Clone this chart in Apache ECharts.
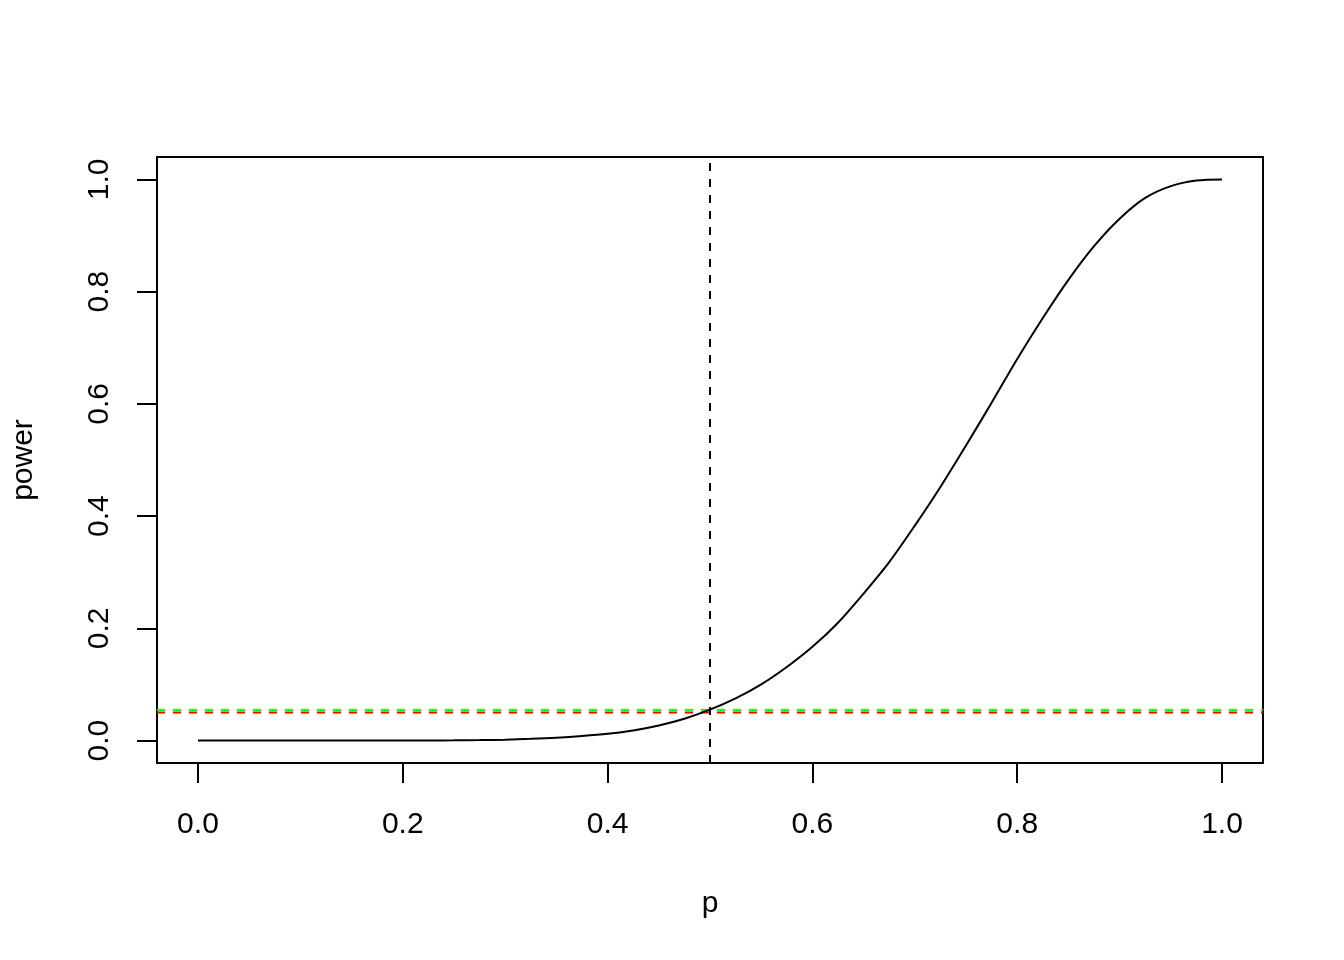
<!DOCTYPE html>
<html>
<head>
<meta charset="utf-8">
<script src="https://cdn.jsdelivr.net/npm/echarts@6/dist/echarts.min.js"></script>
<style>
html,body{margin:0;padding:0;background:#fff;}
#chart{width:1344px;height:960px;}
</style>
</head>
<body>
<div id="chart"></div>
<script>
// Data
const pValues = [0, 0.025, 0.05, 0.075, 0.1, 0.125, 0.15, 0.175, 0.2, 0.225, 0.25, 0.275, 0.3, 0.325, 0.35, 0.375, 0.4, 0.425, 0.45, 0.475, 0.5, 0.525, 0.55, 0.575, 0.6, 0.625, 0.65, 0.675, 0.7, 0.725, 0.75, 0.775, 0.8, 0.825, 0.85, 0.875, 0.9, 0.925, 0.95, 0.975, 1.0];
const powerValues = [0, 0, 0, 0, 0, 0, 0, 0, 0.0001, 0.0002, 0.0004, 0.0009, 0.0016, 0.003, 0.005, 0.008, 0.012, 0.018, 0.027, 0.039, 0.055, 0.075, 0.100, 0.131, 0.167, 0.210, 0.262, 0.318, 0.383, 0.452, 0.526, 0.602, 0.680, 0.753, 0.821, 0.881, 0.930, 0.967, 0.988, 0.998, 1.0];
const xTicks = [0, 0.2, 0.4, 0.6, 0.8, 1.0];
const yTicks = [0, 0.2, 0.4, 0.6, 0.8, 1.0];
const axisRange = [-0.04, 1.04];
const vLineX = 0.5;
const redLineY = 0.05;
const greenLineY = 0.0547;
const xTitle = 'p';
const yTitle = 'power';

const font = '"Liberation Sans", Arial, sans-serif';
const chart = echarts.init(document.getElementById('chart'), null, {renderer: 'canvas'});

function refSeries(points, color, z) {
  return {
    type: 'line', data: points, silent: true, z: z,
    showSymbol: false, symbol: 'none',
    lineStyle: {color: color, width: 2, type: [8, 8]}
  };
}

chart.setOption({
  animation: false,
  backgroundColor: '#ffffff',
  grid: {
    left: 157, right: 81, top: 157, bottom: 197,
    show: true, borderColor: '#000', borderWidth: 2, backgroundColor: 'transparent'
  },
  xAxis: {
    type: 'value', min: axisRange[0], max: axisRange[1],
    name: xTitle, nameLocation: 'middle', nameGap: 126,
    nameTextStyle: {fontFamily: font, fontSize: 30, color: '#000'},
    axisLine: {show: false, onZero: false},
    splitLine: {show: false},
    axisTick: {show: true, inside: false, customValues: xTicks, length: 20, lineStyle: {color: '#000', width: 2}},
    axisLabel: {customValues: xTicks, fontFamily: font, fontSize: 30, color: '#000', margin: 47,
      formatter: v => v.toFixed(1)}
  },
  yAxis: {
    type: 'value', min: axisRange[0], max: axisRange[1],
    name: yTitle, nameLocation: 'middle', nameGap: 118, nameRotate: 90,
    nameTextStyle: {fontFamily: font, fontSize: 30, color: '#000'},
    axisLine: {show: false, onZero: false},
    splitLine: {show: false},
    axisTick: {show: true, inside: false, customValues: yTicks, length: 20, lineStyle: {color: '#000', width: 2}},
    axisLabel: {customValues: yTicks, rotate: 90, fontFamily: font, fontSize: 30, color: '#000', margin: 42,
      formatter: v => v.toFixed(1)}
  },
  series: [
    {
      type: 'line',
      data: pValues.map((p, i) => [p, powerValues[i]]),
      showSymbol: false,
      smooth: 0.3,
      lineStyle: {color: '#000', width: 2},
      z: 5
    },
    refSeries(axisRange.map(x => [x, redLineY]), '#ff0000', 2),
    refSeries(axisRange.map(x => [x, greenLineY]), '#00ff00', 3),
    refSeries(axisRange.map(y => [vLineX, y]), '#000000', 4)
  ]
});
</script>
</body>
</html>
